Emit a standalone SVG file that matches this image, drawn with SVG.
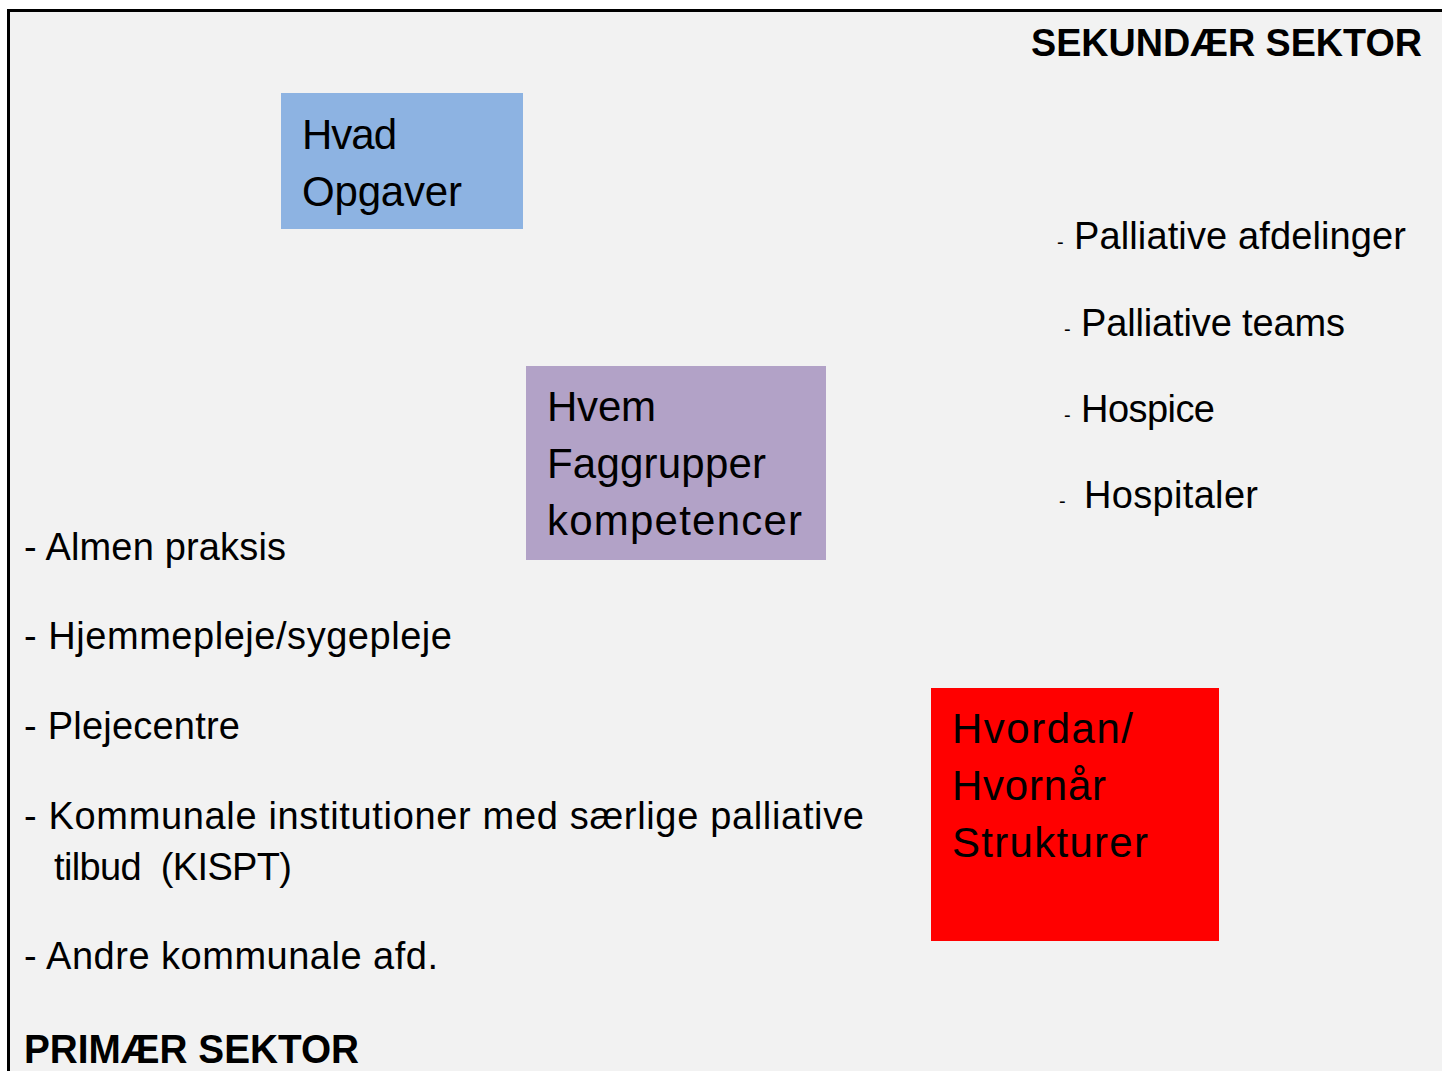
<svg xmlns="http://www.w3.org/2000/svg" width="1442" height="1071" viewBox="0 0 1442 1071">
<style>
text { font-family: "Liberation Sans", Arial, sans-serif; fill: #000; }
.box { font-size: 42px; }
.item { font-size: 38px; }
.dash { font-size: 20px; }
.head { font-size: 41px; font-weight: bold; }
.head2 { font-size: 39px; font-weight: bold; }
</style>
<rect x="0" y="0" width="1442" height="1071" fill="#ffffff"/>
<rect id="frame-fill" x="8.5" y="10.5" width="1433.5" height="1060.5" fill="#f2f2f2"/>
<path id="frame-edge" d="M8.5 1071 V10.5 H1442" fill="none" stroke="#000" stroke-width="3"/>
<g id="connectors"></g>
<g id="heading-secondary">
<text class="head2" x="1031" y="56" textLength="391" lengthAdjust="spacingAndGlyphs">SEKUNDÆR SEKTOR</text>
</g>
<g id="node-hvad">
<rect x="281" y="93" width="242" height="136" fill="#8db3e2"/>
<text class="box" x="302" y="149" textLength="95">Hvad</text>
<text class="box" x="302" y="206" textLength="160">Opgaver</text>
</g>
<g id="node-hvem">
<rect x="526" y="366" width="300" height="194" fill="#b2a2c7"/>
<text class="box" x="547" y="421" textLength="109">Hvem</text>
<text class="box" x="547" y="478" textLength="219">Faggrupper</text>
<text class="box" x="547" y="535" textLength="255">kompetencer</text>
</g>
<g id="node-hvordan">
<rect x="931" y="688" width="288" height="253" fill="#ff0000"/>
<text class="box" x="952" y="743" textLength="181">Hvordan/</text>
<text class="box" x="952" y="800" textLength="154">Hvornår</text>
<text class="box" x="952" y="857" textLength="196">Strukturer</text>
</g>
<g id="secondary-list">
<text class="dash" x="1057" y="249">-</text>
<text class="item" x="1074" y="249" textLength="332">Palliative afdelinger</text>
<text class="dash" x="1064" y="336">-</text>
<text class="item" x="1081" y="336" textLength="264">Palliative teams</text>
<text class="dash" x="1064" y="422">-</text>
<text class="item" x="1081" y="422" textLength="134">Hospice</text>
<text class="dash" x="1059" y="508">-</text>
<text class="item" x="1084" y="508" textLength="174">Hospitaler</text>
</g>
<g id="primary-list">
<text class="item" x="24" y="560" textLength="262">- Almen praksis</text>
<text class="item" x="24" y="649" textLength="428">- Hjemmepleje/sygepleje</text>
<text class="item" x="24" y="739" textLength="216">- Plejecentre</text>
<text class="item" x="24" y="829" textLength="840">- Kommunale institutioner med særlige palliative</text>
<text class="item" x="54" y="880" textLength="238" xml:space="preserve">tilbud  (KISPT)</text>
<text class="item" x="24" y="969" textLength="414">- Andre kommunale afd.</text>
</g>
<g id="heading-primary">
<text class="head" x="24" y="1063" textLength="335" lengthAdjust="spacingAndGlyphs">PRIMÆR SEKTOR</text>
</g>
</svg>
